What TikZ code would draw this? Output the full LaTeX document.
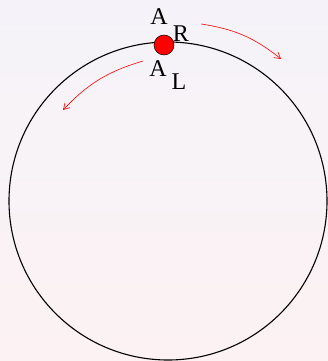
\documentclass[tikz,border=0pt]{standalone}
\usepackage{fontspec}
\setmainfont{Liberation Serif}
\usetikzlibrary{arrows.meta,positioning}
\definecolor{lavtop}{HTML}{F5F3F9}
\definecolor{pinkbot}{HTML}{FCF2F3}
\definecolor{beadred}{HTML}{FF0000}
\tikzset{
  ring/.style={draw=black, line width=1.1pt},
  bead/.style={
    circle, draw=black, fill=beadred, line width=0.5pt,
    minimum size=20pt, inner sep=0pt
  },
  movearrow/.style={
    -{Straight Barb[length=6pt,width=7pt]}, draw=beadred, line width=0.6pt
  },
  letternode/.style={
    font=\fontsize{24}{24}\selectfont, inner sep=0pt
  },
}

\begin{document}
\begin{tikzpicture}[x=1pt,y=-1pt]
  % Background
  \shade[top color=lavtop, bottom color=pinkbot] (0,0) rectangle (328,361);
  \useasboundingbox (0,0) rectangle (328,361);

  % Ring and bead
  \draw[ring] (168,201) circle (159pt);
  \node[bead] (bead) at (164,45) {};

  % Labels
  \node[letternode] (aR) at (159,17) {A};
  \node[letternode] (subR) at (181,34) {R};
  \node[letternode] (aL) at (158,69) {A};
  \node[letternode] (subL) at (179,82) {L};

  % Directions
  \coordinate (rstart) at (201,24);
  \coordinate (rend) at (281,59);
  \coordinate (lstart) at (143,61);
  \coordinate (lend) at (63,110);
  \draw[movearrow] (rstart) to[bend left=15] (rend);
  \draw[movearrow] (lstart) to[bend right=15] (lend);
\end{tikzpicture}
\end{document}
